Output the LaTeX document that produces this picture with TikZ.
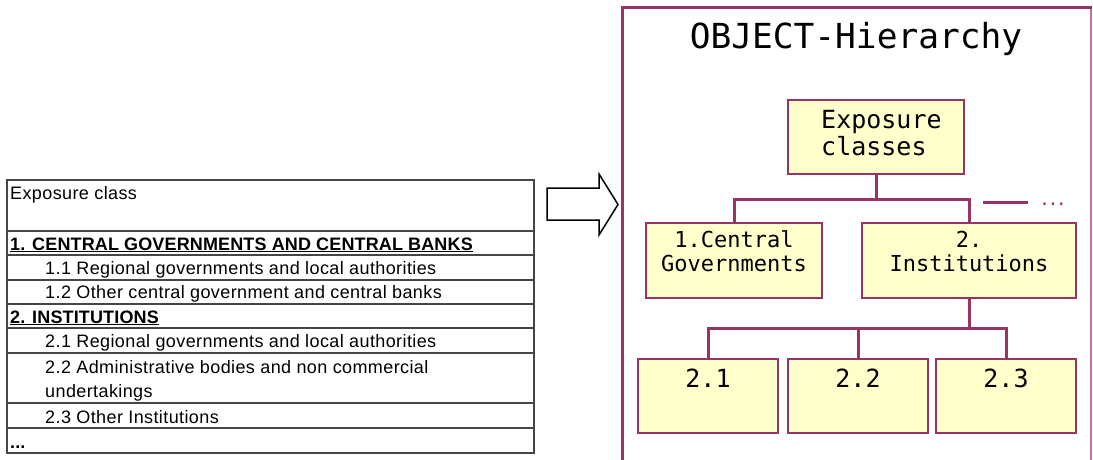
\documentclass[tikz,border=0pt]{standalone}
\usepackage{fontspec}
\setmainfont{Liberation Sans}[LetterSpace=2.2, BoldFeatures={LetterSpace=0.8}]
\newfontfamily\monofont{DejaVu Sans Mono}
\definecolor{plum}{RGB}{153,51,102}
\definecolor{plumlight}{RGB}{204,110,160}
\definecolor{boxfill}{RGB}{255,255,204}
\definecolor{tabline}{RGB}{70,70,70}
\tikzset{
  box/.style={draw=plum, fill=boxfill, line width=2pt, inner sep=0pt},
  conn/.style={draw=plum, line width=3pt},
  tabrule/.style={draw=tabline, line width=1.3pt},
  tabtxt/.style={anchor=base west, inner sep=0pt, font=\fontsize{18}{20}\selectfont},
  montxt/.style={anchor=base, inner sep=0pt},
}
\begin{document}
\begin{tikzpicture}[x=1pt,y=-1pt]
\useasboundingbox (0,0) rectangle (1093,459);
\fill[white] (0,0) rectangle (1093,459);

% ---------- table ----------
\foreach \yy in {231,255,280,304,328,353,403,428}
  \draw[tabrule] (7,\yy) -- (534,\yy);
\draw[tabrule, line width=1.8pt] (7,180) rectangle (534,453);

\node[tabtxt] (t0) at (10,199) {Exposure class};
\node[tabtxt] (t1) at (10,250) {\bfseries\underline{1. CENTRAL GOVERNMENTS AND CENTRAL BANKS}};
\node[tabtxt] (t11) at (45,274) {1.1 Regional governments and local authorities};
\node[tabtxt] (t12) at (45,298) {1.2 Other central government and central banks};
\node[tabtxt] (t2) at (10,323) {\bfseries\underline{2. INSTITUTIONS}};
\node[tabtxt] (t21) at (45,347) {2.1 Regional governments and local authorities};
\node[tabtxt] (t22) at (45,373) {2.2 Administrative bodies and non commercial};
\node[tabtxt] (t22b) at (45,397) {undertakings};
\node[tabtxt] (t23) at (45,423) {2.3 Other Institutions};
\node[tabtxt] (tdots) at (10,448) {\bfseries ...};

% ---------- block arrow ----------
\draw[line width=1.5pt, fill=white, line join=miter]
  (547,188) -- (599,188) -- (599,174) -- (618,204.5) -- (599,235)
  -- (599,220) -- (547,220) -- cycle;

% ---------- frame ----------
\draw[plumlight, line width=1.5pt] (1091,7) -- (1091,470);
\draw[plum, line width=3pt] (622,470) -- (622,7) -- (1092,7);

\node[montxt, font=\monofont\fontsize{34.5}{36}\selectfont] (title) at (856,48) {OBJECT-Hierarchy};

% ---------- boxes ----------
\node[box, minimum width=176pt, minimum height=74pt] (exp) at (876,137) {};
\node[box, minimum width=176pt, minimum height=75pt] (cg) at (734,260.5) {};
\node[box, minimum width=214pt, minimum height=75pt] (inst) at (969,260.5) {};
\node[box, minimum width=140pt, minimum height=74pt] (b21) at (708,396) {};
\node[box, minimum width=140pt, minimum height=74pt] (b22) at (858,396) {};
\node[box, minimum width=140pt, minimum height=74pt] (b23) at (1006,396) {};

\node[anchor=base west, inner sep=0pt, font=\monofont\fontsize{25}{27}\selectfont] (expa) at (821,128) {Exposure};
\node[anchor=base west, inner sep=0pt, font=\monofont\fontsize{25}{27}\selectfont] (expb) at (821,155) {classes};

\node[montxt, font=\monofont\fontsize{22}{24}\selectfont] (cga) at (734,247) {1.Central};
\node[montxt, font=\monofont\fontsize{22}{24}\selectfont] (cgb) at (734,271) {Governments};
\node[montxt, font=\monofont\fontsize{22}{24}\selectfont] (insta) at (969,247) {2.};
\node[montxt, font=\monofont\fontsize{22}{24}\selectfont] (instb) at (969,271) {Institutions};

\node[montxt, font=\monofont\fontsize{25}{27}\selectfont] (l21) at (708,387) {2.1};
\node[montxt, font=\monofont\fontsize{25}{27}\selectfont] (l22) at (858,387) {2.2};
\node[montxt, font=\monofont\fontsize{25}{27}\selectfont] (l23) at (1006,387) {2.3};

% ---------- connectors ----------
\coordinate (j1) at (exp.south |- 0,199);
\coordinate (j2) at (inst.south |- 0,328);
\draw[conn] (exp.south) -- (j1);
\draw[conn] (cg.north) |- (j1);
\draw[conn] (inst.north) |- (j1);
\draw[conn] (inst.south) -- (j2);
\draw[conn] (b21.north) |- (j2);
\draw[conn] (b23.north) |- (j2);
\draw[conn] (b22.north) -- (b22.north |- j2);

\coordinate (m1) at (983,202);
\coordinate (m2) at (1028,202);
\draw[conn] (m1) -- (m2);
\node[montxt, text=plum, font=\monofont\bfseries\fontsize{14}{16}\selectfont] (more) at (1053,205) {...};
\end{tikzpicture}
\end{document}
